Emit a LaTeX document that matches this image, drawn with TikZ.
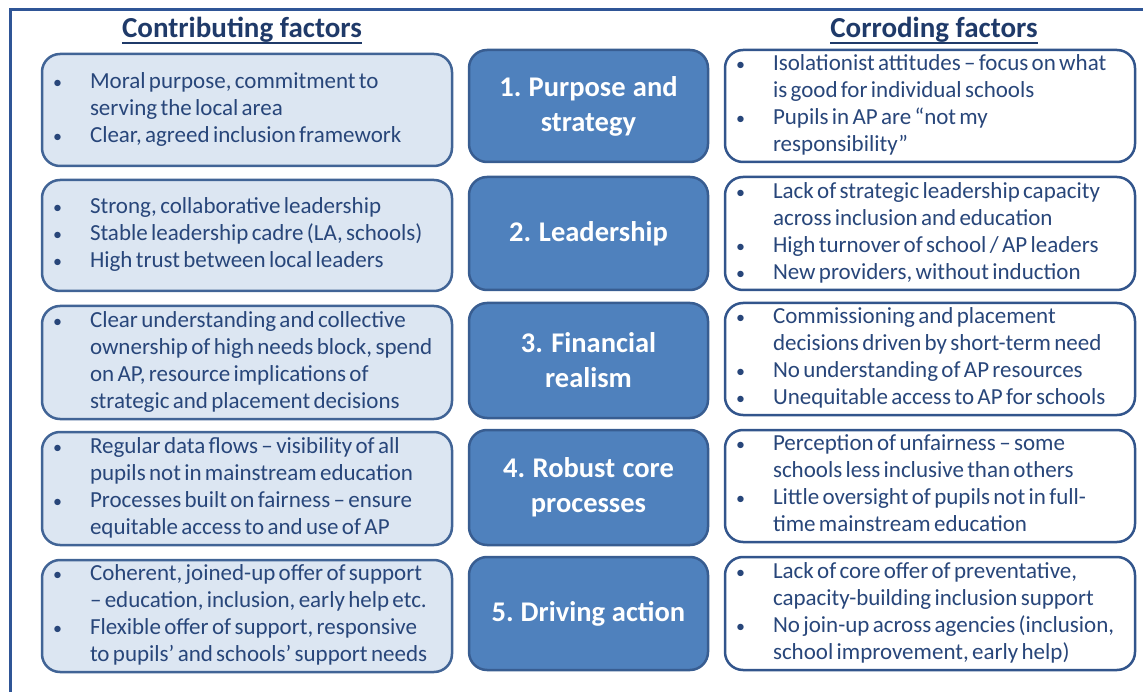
\documentclass[tikz,border=0pt]{standalone}
\usepackage{fontspec}
\setmainfont{Carlito}
\usepackage{array}
\frenchspacing
\definecolor{framecol}{RGB}{47,85,150}
\definecolor{titlecol}{RGB}{31,58,105}
\definecolor{bodycol}{RGB}{40,70,122}
\definecolor{lfill}{RGB}{220,230,242}
\definecolor{lborder}{RGB}{65,100,150}
\definecolor{mfill}{RGB}{79,129,189}
\definecolor{mborder}{RGB}{56,93,145}
\definecolor{rborder}{RGB}{50,85,140}
\newcommand\blist[1]{\fontsize{23}{27}\selectfont\begin{tabular}{@{}p{37pt}@{}l@{}}#1\end{tabular}}
\newcommand\bu{{\fontsize{18}{27}\selectfont\textbullet}}
\newcommand\mtxt[1]{\spaceskip=0.21em plus 0.1em\relax #1}
\tikzset{
  sidebox/.style={rounded corners=18pt, line width=2.5pt, minimum width=410pt,
    inner xsep=11pt, inner ysep=0pt, text width=388pt, align=left, text=bodycol},
  lbox/.style={sidebox, draw=lborder, fill=lfill},
  rbox/.style={sidebox, draw=rborder, fill=white},
  mbox/.style={rounded corners=18pt, line width=2.5pt, draw=mborder, fill=mfill,
    minimum width=239pt, inner sep=0pt, text width=230pt, align=center, text=white,
    font=\fontsize{28.5}{35}\selectfont\bfseries},
  ttl/.style={inner sep=0pt, anchor=base, text=titlecol, font=\fontsize{29}{32}\selectfont\bfseries}
}
\begin{document}
\begin{tikzpicture}[x=1pt,y=-1pt]
\useasboundingbox (0,0) rectangle (1143,692);
\draw[framecol, line width=3pt] (10,692) -- (10,9.5) -- (1143,9.5);
% titles
\node[ttl] (t1) at (242,38) {Contributing factors};
\node[ttl] (t2) at (934,38) {Corroding factors};
\draw[titlecol, line width=1.6pt] ([yshift=-5pt]t1.base west) -- ([yshift=-5pt]t1.base east);
\draw[titlecol, line width=1.6pt] ([yshift=-5pt]t2.base west) -- ([yshift=-5pt]t2.base east);
% left boxes
\node[lbox, minimum height=112pt] (l1) at (247,110) {\blist{\bu & Moral purpose, commitment to\\ & serving the local area\\ \bu & Clear, agreed inclusion framework}};
\node[lbox, minimum height=111pt] (l2) at (247,235.5) {\blist{\bu & Strong, collaborative leadership\\ \bu & Stable leadership cadre (LA, schools)\\ \bu & High trust between local leaders}};
\node[lbox, minimum height=113pt] (l3) at (247,362.5) {\blist{\bu & Clear understanding and collective\\ & ownership of high needs block, spend\\ & on AP, resource implications of\\ & strategic and placement decisions}};
\node[lbox, minimum height=113pt] (l4) at (247,488.5) {\blist{\bu & Regular data flows -- visibility of all\\ & pupils not in mainstream education\\ \bu & Processes built on fairness -- ensure\\ & equitable access to and use of AP}};
\node[lbox, minimum height=112pt] (l5) at (247,616) {\blist{\bu & Coherent, joined-up offer of support\\ & -- education, inclusion, early help etc.\\ \bu & Flexible offer of support, responsive\\ & to pupils’ and schools’ support needs}};
% middle boxes
\node[mbox, minimum height=112pt] (m1) at (588.5,106) {\mtxt{1. Purpose and\\ strategy}};
\node[mbox, minimum height=113pt] (m2) at (588.5,233.5) {\mtxt{2. Leadership}};
\node[mbox, minimum height=115pt] (m3) at (588.5,360.5) {\mtxt{3. Financial\\ realism}};
\node[mbox, minimum height=115pt] (m4) at (588.5,487.5) {\mtxt{4. Robust core\\ processes}};
\node[mbox, minimum height=113pt] (m5) at (588.5,613.5) {\mtxt{5. Driving action}};
% right boxes
\node[rbox, minimum height=112pt] (r1) at (930,106) {\blist{\bu & Isolationist attitudes -- focus on what\\ & is good for individual schools\\ \bu & Pupils in AP are “not my\\ & responsibility”}};
\node[rbox, minimum height=113pt] (r2) at (930,233.5) {\blist{\bu & Lack of strategic leadership capacity\\ & across inclusion and education\\ \bu & High turnover of school / AP leaders\\ \bu & New providers, without induction}};
\node[rbox, minimum height=112pt] (r3) at (930,359) {\blist{\bu & Commissioning and placement\\ & decisions driven by short-term need\\ \bu & No understanding of AP resources\\ \bu & Unequitable access to AP for schools}};
\node[rbox, minimum height=112pt] (r4) at (930,486) {\blist{\bu & Perception of unfairness -- some\\ & schools less inclusive than others\\ \bu & Little oversight of pupils not in full-\\ & time mainstream education}};
\node[rbox, minimum height=113pt] (r5) at (930,613.5) {\blist{\bu & Lack of core offer of preventative,\\ & capacity-building inclusion support\\ \bu & No join-up across agencies (inclusion,\\ & school improvement, early help)}};
\end{tikzpicture}
\end{document}
